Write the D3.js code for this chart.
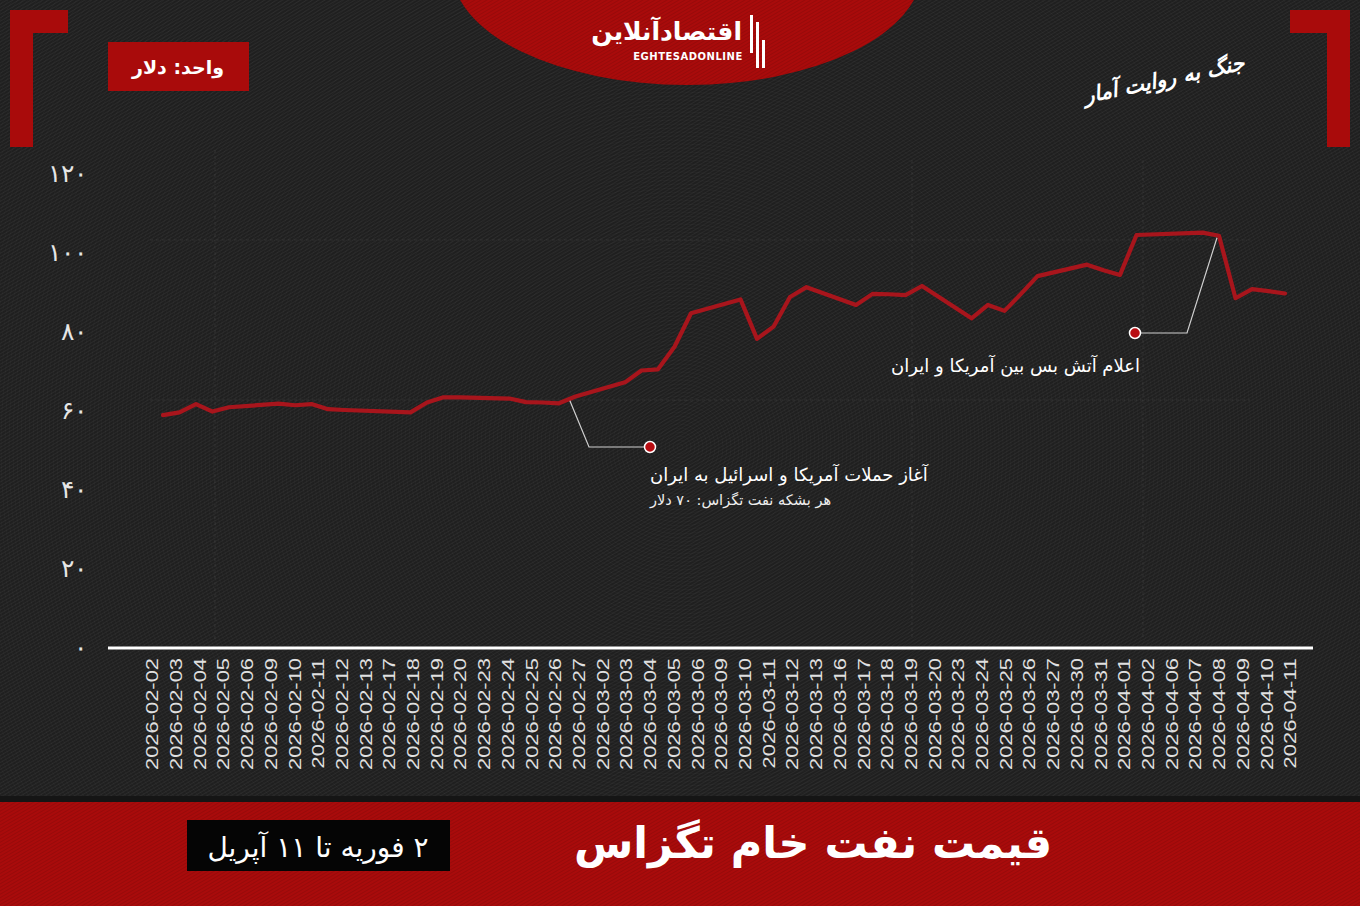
<!DOCTYPE html>
<html>
<head>
<meta charset="utf-8">
<script src="https://cdn.jsdelivr.net/npm/d3@7/dist/d3.min.js"></script>
<style>
  html, body { margin: 0; padding: 0; background: #1c1c1c; }
  svg { display: block; }
</style>
</head>
<body>
<script>
// ---------------- DATA ----------------
const dates = [
  "2026-02-02","2026-02-03","2026-02-04","2026-02-05","2026-02-06","2026-02-09","2026-02-10",
  "2026-02-11","2026-02-12","2026-02-13","2026-02-17","2026-02-18","2026-02-19","2026-02-20",
  "2026-02-23","2026-02-24","2026-02-25","2026-02-26","2026-02-27","2026-03-02","2026-03-03",
  "2026-03-04","2026-03-05","2026-03-06","2026-03-09","2026-03-10","2026-03-11","2026-03-12",
  "2026-03-13","2026-03-16","2026-03-17","2026-03-18","2026-03-19","2026-03-20","2026-03-23",
  "2026-03-24","2026-03-25","2026-03-26","2026-03-27","2026-03-30","2026-03-31","2026-04-01",
  "2026-04-02","2026-04-06","2026-04-07","2026-04-08","2026-04-09","2026-04-10","2026-04-11"
];
const prices = [
  58.7, 59.4, 61.5, 59.6, 60.7, 61.6, 61.2,
  61.5, 60.2, 60.0, 59.4, 61.9, 63.2, 63.2,
  62.9, 62.0, 61.9, 61.7, 63.4, 67.0, 70.0,
  70.3, 76.0, 84.5, 88.0, 78.0, 81.1, 88.6,
  91.1, 86.6, 89.4, 89.3, 89.1, 91.4, 83.2,
  86.6, 85.1, 89.4, 93.9, 96.8, 95.4, 94.2,
  104.3, 104.9, 104.1, 88.3, 90.6, 90.1, 89.5
];
const yTicks = [0, 20, 40, 60, 80, 100, 120];
const yTickLabels = ["۰", "۲۰", "۴۰", "۶۰", "۸۰", "۱۰۰", "۱۲۰"];

const titleText = "قیمت نفت خام تگزاس";
const periodText = "۲ فوریه تا ۱۱ آپریل";
const unitText = "واحد: دلار";
const seriesTagline = "جنگ به روایت آمار";
const logoFa = "اقتصادآنلاین";
const logoEn = "EGHTESADONLINE";
const note1Title = "آغاز حملات آمریکا و اسرائیل به ایران";
const note1Sub = "هر بشکه نفت تگزاس: ۷۰ دلار";
const note2Title = "اعلام آتش بس بین آمریکا و ایران";

// ---------------- LAYOUT ----------------
const W = 1360, H = 906;
const RED = "#a90b0b";
const LINE = "#a8151c";
const FA = "'DejaVu Sans', 'Noto Sans', sans-serif";

const svg = d3.select("body").append("svg").attr("width", W).attr("height", H);
const defs = svg.append("defs");

// diagonal stripe texture
const pat = defs.append("pattern").attr("id", "stripes").attr("patternUnits", "userSpaceOnUse")
  .attr("width", 3).attr("height", 3).attr("patternTransform", "rotate(60)");
pat.append("rect").attr("width", 1).attr("height", 3).attr("fill", "rgba(255,255,255,0.05)");
const pat2 = defs.append("pattern").attr("id", "stripesDark").attr("patternUnits", "userSpaceOnUse")
  .attr("width", 3).attr("height", 3).attr("patternTransform", "rotate(60)");
pat2.append("rect").attr("width", 1).attr("height", 3).attr("fill", "rgba(0,0,0,0.10)");

svg.append("rect").attr("width", W).attr("height", H).attr("fill", "#1f1f1f");
// concentric rings
const rings = svg.append("g").attr("fill", "none").attr("stroke", "rgba(255,255,255,0.025)").attr("stroke-width", 1);
d3.range(3, 900, 4).forEach(r => rings.append("circle").attr("cx", 680).attr("cy", 447).attr("r", r));
svg.append("rect").attr("width", W).attr("height", H).attr("fill", "url(#stripes)");

// faint decorative crosshair guides
const deco = svg.append("g").attr("stroke", "rgba(255,255,255,0.05)").attr("stroke-width", 1.5).attr("stroke-dasharray", "3,3");
[[215, 150, 215, 640], [912, 160, 912, 640], [1143, 160, 1143, 640], [150, 240, 1250, 240], [150, 400, 1250, 400]]
  .forEach(l => deco.append("line").attr("x1", l[0]).attr("y1", l[1]).attr("x2", l[2]).attr("y2", l[3]));

// corner brackets
svg.append("path").attr("fill", RED).attr("d", "M10,10 H68 V33 H33 V147 H10 Z");
svg.append("path").attr("fill", RED).attr("d", "M1350,10 H1290 V33 H1327 V147 H1350 Z");

// top logo ellipse
svg.append("ellipse").attr("cx", 687).attr("cy", -30).attr("rx", 235).attr("ry", 115).attr("fill", RED);
svg.append("ellipse").attr("cx", 687).attr("cy", -30).attr("rx", 235).attr("ry", 115).attr("fill", "url(#stripesDark)");
svg.append("text").attr("x", 742).attr("y", 40).attr("direction", "rtl").attr("text-anchor", "start")
  .attr("font-family", FA).attr("font-weight", "bold").attr("font-size", 25).attr("fill", "#fff").text(logoFa);
svg.append("text").attr("x", 688).attr("y", 60).attr("text-anchor", "middle")
  .attr("font-family", "'DejaVu Sans', sans-serif").attr("font-weight", "bold").attr("font-size", 10)
  .attr("letter-spacing", 0.5).attr("fill", "#fff").text(logoEn);
const bars = svg.append("g").attr("fill", "#fff");
[[750, 15, 3, 38], [756, 22, 3, 46], [762, 40, 3, 28]].forEach(b =>
  bars.append("rect").attr("x", b[0]).attr("y", b[1]).attr("width", b[2]).attr("height", b[3]));

// tagline top right
svg.append("text").attr("x", 1245).attr("y", 84).attr("direction", "rtl").attr("text-anchor", "start")
  .attr("transform", "rotate(-12,1175,75)")
  .attr("font-family", FA).attr("font-style", "italic").attr("font-weight", "bold").attr("font-size", 21)
  .attr("fill", "#fff").text(seriesTagline);

// unit box
svg.append("rect").attr("x", 108).attr("y", 42).attr("width", 141).attr("height", 49).attr("fill", RED);
svg.append("text").attr("x", 178).attr("y", 74).attr("direction", "rtl").attr("text-anchor", "middle")
  .attr("font-family", FA).attr("font-weight", "bold").attr("font-size", 19).attr("fill", "#fff").text(unitText);

// ---------------- SCALES ----------------
const parse = d3.utcParse("%Y-%m-%d");
const series = dates.map((d, i) => ({ date: parse(d), v: prices[i] }));
const y = d3.scaleLinear().domain([0, 120]).range([647, 173]);
const xTime = d3.scaleUtc().domain([series[0].date, series[series.length - 1].date]).range([163, 1285]);
const xCat = d3.scalePoint().domain(dates).range([152, 1290]);

// y axis
const yAxis = svg.append("g").attr("transform", "translate(87,0)")
  .call(d3.axisLeft(y).tickValues(yTicks).tickFormat((d, i) => yTickLabels[i]).tickSize(0).tickPadding(0));
yAxis.select(".domain").remove();
yAxis.selectAll("text").attr("font-family", FA).attr("font-size", 25).attr("font-weight", 200)
  .attr("fill", "#e6e6e6").attr("dy", "0.35em");

// x axis (category labels)
const xAxis = svg.append("g").attr("transform", "translate(0,658)")
  .call(d3.axisBottom(xCat).tickSize(0).tickPadding(0));
xAxis.select(".domain").remove();
xAxis.selectAll("text")
  .attr("font-family", "'Liberation Sans', Arial, sans-serif").attr("font-size", 16).attr("fill", "#e0e0e0")
  .attr("text-anchor", "end").attr("x", 0).attr("y", 0).attr("dy", "0.36em")
  .attr("transform", "rotate(-90) scale(1.37,1)");

// zero baseline
svg.append("line").attr("x1", 108).attr("x2", 1313).attr("y1", y(0) + 1).attr("y2", y(0) + 1)
  .attr("stroke", "#fff").attr("stroke-width", 3);

// price line
svg.append("path").datum(series).attr("fill", "none").attr("stroke", LINE).attr("stroke-width", 4.2)
  .attr("stroke-linejoin", "round").attr("stroke-linecap", "round")
  .attr("d", d3.line().x(d => xTime(d.date)).y(d => y(d.v)));

// ---------------- ANNOTATIONS ----------------
const ann = svg.append("g");
// attack start: point between 26 and 27 Feb on the line
const iA = dates.indexOf("2026-02-26");
const ax = xTime(series[iA].date) + (xTime(series[iA + 1].date) - xTime(series[iA].date)) * 0.66;
const ay = y(series[iA].v + (series[iA + 1].v - series[iA].v) * 0.66);
const dot1 = [650, 447];
ann.append("polyline").attr("fill", "none").attr("stroke", "#d0d0d0").attr("stroke-width", 1.2)
  .attr("points", [[ax, ay + 2], [589, dot1[1]], dot1].map(p => p.join(",")).join(" "));
ann.append("circle").attr("cx", dot1[0]).attr("cy", dot1[1]).attr("r", 5.5).attr("fill", "#b80d12")
  .attr("stroke", "#fff").attr("stroke-width", 1.5);
ann.append("text").attr("x", dot1[0]).attr("y", 481).attr("direction", "rtl").attr("text-anchor", "end")
  .attr("font-family", FA).attr("font-size", 18).attr("fill", "#fff").text(note1Title);
ann.append("text").attr("x", dot1[0]).attr("y", 505).attr("direction", "rtl").attr("text-anchor", "end")
  .attr("font-family", FA).attr("font-size", 14.5).attr("fill", "#eee").text(note1Sub);

// ceasefire: point at 7 April
const iC = dates.indexOf("2026-04-07");
const cx = xTime(series[iC].date), cy = y(series[iC].v);
const dot2 = [1135, 333];
ann.append("polyline").attr("fill", "none").attr("stroke", "#d0d0d0").attr("stroke-width", 1.2)
  .attr("points", [dot2, [1187, dot2[1]], [cx - 2, cy + 2]].map(p => p.join(",")).join(" "));
ann.append("circle").attr("cx", dot2[0]).attr("cy", dot2[1]).attr("r", 5.5).attr("fill", "#b80d12")
  .attr("stroke", "#fff").attr("stroke-width", 1.5);
ann.append("text").attr("x", 1140).attr("y", 372).attr("direction", "rtl").attr("text-anchor", "start")
  .attr("font-family", FA).attr("font-size", 18).attr("fill", "#fff").text(note2Title);

// ---------------- BOTTOM BANNER ----------------
svg.append("rect").attr("x", 0).attr("y", 796).attr("width", W).attr("height", 6).attr("fill", "#151515");
svg.append("rect").attr("x", 0).attr("y", 802).attr("width", W).attr("height", H - 802).attr("fill", RED);
svg.append("rect").attr("x", 0).attr("y", 802).attr("width", W).attr("height", H - 802).attr("fill", "url(#stripesDark)");
svg.append("text").attr("x", 813).attr("y", 858).attr("direction", "rtl").attr("text-anchor", "middle")
  .attr("font-family", FA).attr("font-weight", "bold").attr("font-size", 43).attr("fill", "#fff").text(titleText);
svg.append("rect").attr("x", 187).attr("y", 820).attr("width", 263).attr("height", 51).attr("fill", "#050505");
svg.append("text").attr("x", 318).attr("y", 857).attr("direction", "rtl").attr("text-anchor", "middle")
  .attr("font-family", FA).attr("font-size", 28).attr("fill", "#fff").text(periodText);
</script>
</body>
</html>
